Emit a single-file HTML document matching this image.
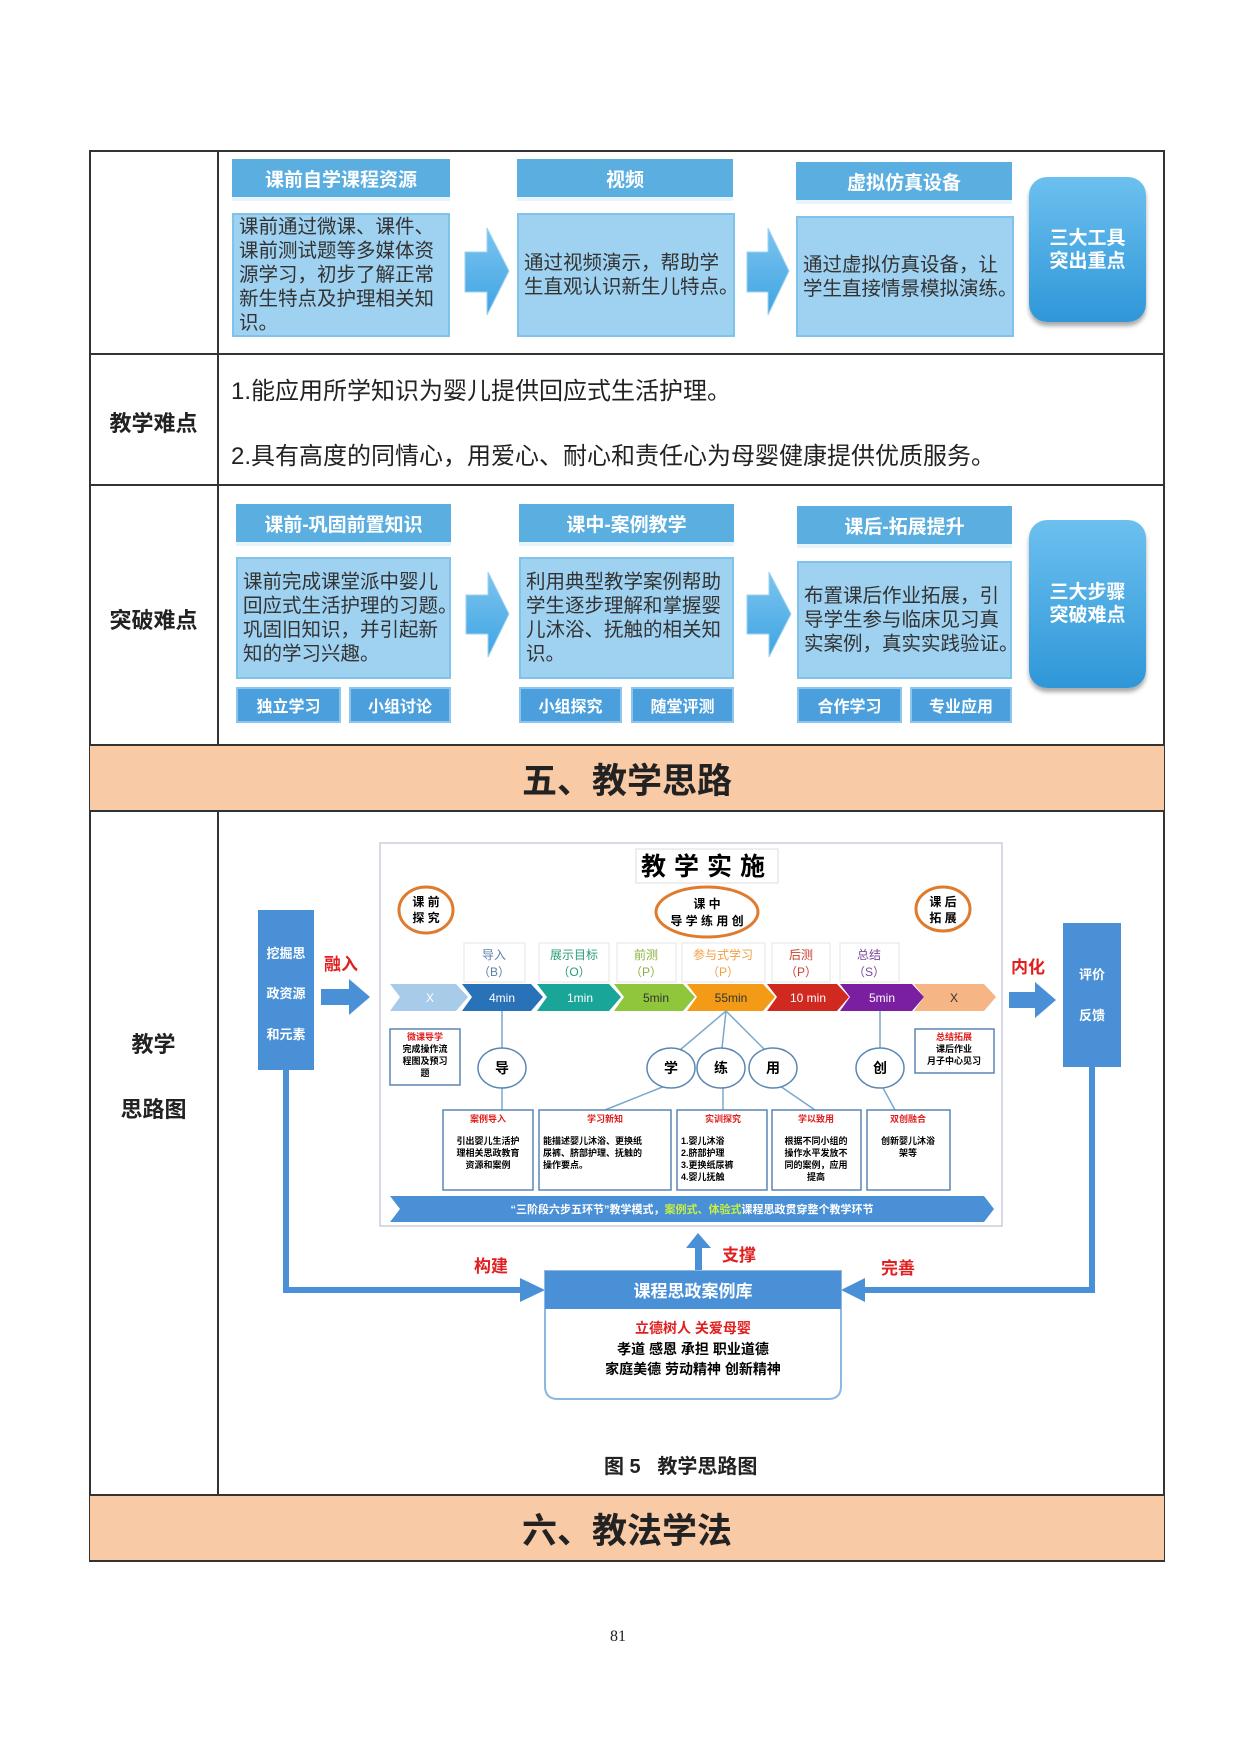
<!DOCTYPE html>
<html><head><meta charset="utf-8"><style>
*{margin:0;padding:0;box-sizing:border-box}
body{width:1240px;height:1753px;background:#fff;position:relative;font-family:"Liberation Sans","Noto Sans CJK SC",sans-serif;color:#222;overflow:hidden}
.a{position:absolute}
.l{position:absolute;background:#333}
.hd{position:absolute;background:#5aaee0;color:#fff;font-weight:bold;font-size:19px;display:flex;align-items:center;justify-content:center;border-bottom:4px solid #e8f4fb}
.bd{position:absolute;background:#9fd1f1;border:2px solid #7fc2ea;font-size:19.5px;line-height:24px;color:#333;padding:2px 2px 2px 5px;display:flex;align-items:center;white-space:nowrap}
.rb{position:absolute;border-radius:18px;background:linear-gradient(#6cc0ef,#2f97d8);color:#fff;font-weight:bold;font-size:19px;line-height:23px;display:flex;align-items:center;justify-content:center;text-align:center;box-shadow:0 4px 4px #aaa}
.bt{position:absolute;background:#4a9fdc;color:#fff;font-weight:bold;font-size:16px;display:flex;align-items:center;justify-content:center;border:2px solid #8cc6ec}
.lab{position:absolute;font-weight:bold;font-size:22px;text-align:center;width:129px;left:89px}
.sec{position:absolute;left:90px;width:1074px;background:#f8caa6;font-weight:bold;font-size:35px;display:flex;align-items:center;justify-content:center}
</style></head><body>
<div class="l" style="left:89px;top:150px;width:1076px;height:2px"></div>
<div class="l" style="left:89px;top:150px;width:2px;height:1412px"></div>
<div class="l" style="left:1163px;top:150px;width:2px;height:1412px"></div>
<div class="l" style="left:217px;top:150px;width:2px;height:595px"></div>
<div class="l" style="left:217px;top:811px;width:2px;height:684px"></div>
<div class="l" style="left:89px;top:353px;width:1076px;height:2px"></div>
<div class="l" style="left:89px;top:484px;width:1076px;height:2px"></div>
<div class="l" style="left:89px;top:744px;width:1076px;height:2px"></div>
<div class="l" style="left:89px;top:810px;width:1076px;height:2px"></div>
<div class="l" style="left:89px;top:1494px;width:1076px;height:2px"></div>
<div class="l" style="left:89px;top:1560px;width:1076px;height:2px"></div>
<div class="sec" style="top:746px;height:64px">五、教学思路</div>
<div class="sec" style="top:1496px;height:64px">六、教法学法</div>

<div class="hd" style="left:232px;top:159px;width:218px;height:42px">课前自学课程资源</div>
<div class="hd" style="left:517px;top:159px;width:216px;height:42px">视频</div>
<div class="hd" style="left:796px;top:162px;width:216px;height:42px">虚拟仿真设备</div>
<div class="bd" style="left:232px;top:213px;width:218px;height:124px"><div>课前通过微课、课件、<br>课前测试题等多媒体资<br>源学习，初步了解正常<br>新生特点及护理相关知<br>识。</div></div>
<div class="bd" style="left:517px;top:213px;width:218px;height:124px"><div>通过视频演示，帮助学<br>生直观认识新生儿特点。</div></div>
<div class="bd" style="left:796px;top:216px;width:218px;height:121px"><div>通过虚拟仿真设备，让<br>学生直接情景模拟演练。</div></div>
<div class="rb" style="left:1029px;top:177px;width:117px;height:145px">三大工具<br>突出重点</div>

<div class="lab" style="top:406px">教学难点</div>
<div class="a" style="left:231px;top:371px;font-size:24px">1.能应用所学知识为婴儿提供回应式生活护理。</div>
<div class="a" style="left:231px;top:436px;font-size:24px">2.具有高度的同情心，用爱心、耐心和责任心为母婴健康提供优质服务。</div>

<div class="lab" style="top:603px">突破难点</div>
<div class="hd" style="left:236px;top:504px;width:215px;height:42px">课前-巩固前置知识</div>
<div class="hd" style="left:519px;top:504px;width:215px;height:42px">课中-案例教学</div>
<div class="hd" style="left:797px;top:506px;width:215px;height:42px">课后-拓展提升</div>
<div class="bd" style="left:236px;top:557px;width:215px;height:122px"><div>课前完成课堂派中婴儿<br>回应式生活护理的习题。<br>巩固旧知识，并引起新<br>知的学习兴趣。</div></div>
<div class="bd" style="left:519px;top:557px;width:215px;height:122px"><div>利用典型教学案例帮助<br>学生逐步理解和掌握婴<br>儿沐浴、抚触的相关知<br>识。</div></div>
<div class="bd" style="left:797px;top:561px;width:215px;height:118px"><div>布置课后作业拓展，引<br>导学生参与临床见习真<br>实案例，真实实践验证。</div></div>
<div class="rb" style="left:1029px;top:520px;width:117px;height:168px">三大步骤<br>突破难点</div>
<div class="bt" style="left:236px;top:687px;width:105px;height:36px">独立学习</div>
<div class="bt" style="left:349px;top:687px;width:102px;height:36px">小组讨论</div>
<div class="bt" style="left:519px;top:687px;width:103px;height:36px">小组探究</div>
<div class="bt" style="left:631px;top:687px;width:103px;height:36px">随堂评测</div>
<div class="bt" style="left:797px;top:687px;width:105px;height:36px">合作学习</div>
<div class="bt" style="left:910px;top:687px;width:102px;height:36px">专业应用</div>

<div class="lab" style="top:1027px">教学</div>
<div class="lab" style="top:1092px">思路图</div>
<div class="a" style="left:604px;top:1450px;font-size:20px;font-weight:bold">图 5&nbsp;&nbsp;&nbsp;教学思路图</div>
<div class="a" style="left:610px;top:1628px;font-size:16px;font-family:'Liberation Serif',serif">81</div>

<svg class="a" style="left:0;top:0" width="1240" height="1753" font-family="Liberation Sans,Noto Sans CJK SC,sans-serif">
<defs><linearGradient id="g" x1="0" y1="0" x2="0" y2="1"><stop offset="0" stop-color="#7cc4ef"/><stop offset="1" stop-color="#3ea4e3"/></linearGradient></defs>
<g fill="url(#g)" stroke="#9fd1f1">
<polygon points="465,252 487,252 487,228 509,271 487,315 487,292 465,292"/>
<polygon points="747,252 768,252 768,228 789,271 768,315 768,292 747,292"/>
<polygon points="466,595 488,595 488,572 509,614 488,657 488,634 466,634"/>
<polygon points="747,595 769,595 769,572 791,614 769,657 769,634 747,634"/>
</g>
<rect x="380" y="843" width="622" height="383" fill="#fff" stroke="#ccd" stroke-width="1.5"/>
<rect x="636" y="849" width="142" height="34" fill="#fff" stroke="#ddd"/>
<text x="707" y="875" font-size="25" font-weight="bold" text-anchor="middle" letter-spacing="8">教学实施</text>
<g fill="none" stroke="#e07a2c" stroke-width="3">
<ellipse cx="426" cy="910" rx="27" ry="23"/><ellipse cx="707" cy="912" rx="51" ry="25"/><ellipse cx="943" cy="909" rx="27" ry="22"/></g>
<g font-size="12" font-weight="bold" text-anchor="middle">
<text x="426" y="906">课 前</text><text x="426" y="922">探 究</text>
<text x="707" y="908">课 中</text><text x="707" y="925">导 学 练 用 创</text>
<text x="943" y="906">课 后</text><text x="943" y="922">拓 展</text></g>
<g fill="#fff" stroke="#e4e4e4"><rect x="464" y="943" width="61" height="39"/><rect x="539" y="943" width="70" height="39"/><rect x="617" y="943" width="59" height="39"/><rect x="682" y="943" width="83" height="39"/><rect x="772" y="943" width="58" height="39"/><rect x="840" y="943" width="59" height="39"/></g>
<g font-size="12" text-anchor="middle">
<text x="494" y="959" fill="#5a7fa8">导入</text><text x="494" y="976" fill="#5a7fa8">（B）</text>
<text x="574" y="959" fill="#2a9a7a">展示目标</text><text x="574" y="976" fill="#2a9a7a">（O）</text>
<text x="646" y="959" fill="#8ab040">前测</text><text x="646" y="976" fill="#8ab040">（P）</text>
<text x="723" y="959" fill="#f0a040">参与式学习</text><text x="723" y="976" fill="#f0a040">（P）</text>
<text x="801" y="959" fill="#c84030">后测</text><text x="801" y="976" fill="#c84030">（P）</text>
<text x="869" y="959" fill="#7a4a9a">总结</text><text x="869" y="976" fill="#7a4a9a">（S）</text></g>
<g>
<polygon points="390,984 456,984 468,997 456,1011 390,1011 400,997" fill="#a9cbea"/>
<polygon points="462,984 531,984 543,997 531,1011 462,1011 472,997" fill="#2a72b8"/>
<polygon points="537,984 609,984 621,997 609,1011 537,1011 547,997" fill="#19a597"/>
<polygon points="614,984 683,984 695,997 683,1011 614,1011 624,997" fill="#8fc63c"/>
<polygon points="687,984 763,984 775,997 763,1011 687,1011 697,997" fill="#f39a16"/>
<polygon points="767,984 837,984 849,997 837,1011 767,1011 777,997" fill="#d02a20"/>
<polygon points="840,984 912,984 924,997 912,1011 840,1011 850,997" fill="#7a1fa0"/>
<polygon points="914,984 984,984 996,997 984,1011 914,1011 924,997" fill="#f5b585"/>
</g>
<g font-size="12" text-anchor="middle" fill="#fff">
<text x="430" y="1002">X</text><text x="502" y="1002">4min</text><text x="580" y="1002">1min</text><text x="656" y="1002" fill="#333">5min</text><text x="731" y="1002" fill="#333">55min</text><text x="808" y="1002">10 min</text><text x="882" y="1002">5min</text><text x="954" y="1002" fill="#333">X</text></g>
<g stroke="#7aa8cc" stroke-width="1.5" fill="none">
<line x1="502" y1="1011" x2="502" y2="1048"/><line x1="502" y1="1088" x2="502" y2="1110"/>
<line x1="726" y1="1011" x2="680" y2="1050"/><line x1="726" y1="1011" x2="722" y2="1048"/><line x1="726" y1="1011" x2="765" y2="1050"/>
<line x1="665" y1="1086" x2="605" y2="1110"/><line x1="723" y1="1088" x2="723" y2="1110"/><line x1="780" y1="1086" x2="815" y2="1110"/>
<line x1="880" y1="1011" x2="880" y2="1048"/><line x1="883" y1="1088" x2="895" y2="1110"/>
</g>
<g fill="#fff" stroke="#5a86b4" stroke-width="1.5">
<ellipse cx="502" cy="1068" rx="24" ry="20"/><ellipse cx="671" cy="1068" rx="24" ry="20"/><ellipse cx="721" cy="1068" rx="24" ry="20"/><ellipse cx="773" cy="1068" rx="24" ry="20"/><ellipse cx="880" cy="1068" rx="24" ry="20"/>
<rect x="390" y="1029" width="70" height="56"/><rect x="915" y="1029" width="79" height="44"/>
<rect x="443" y="1110" width="90" height="80"/><rect x="539" y="1110" width="132" height="80"/><rect x="677" y="1110" width="90" height="80"/><rect x="772" y="1110" width="89" height="80"/><rect x="867" y="1110" width="83" height="80"/>
</g>
<g font-size="14" font-weight="bold" text-anchor="middle"><text x="502" y="1073">导</text><text x="671" y="1073">学</text><text x="721" y="1073">练</text><text x="773" y="1073">用</text><text x="880" y="1073">创</text></g>
<g font-size="9" font-weight="bold" text-anchor="middle">
<text x="425" y="1040" fill="#e02020">微课导学</text><text x="425" y="1052">完成操作流</text><text x="425" y="1064">程图及预习</text><text x="425" y="1076">题</text>
<text x="954" y="1040" fill="#e02020">总结拓展</text><text x="954" y="1052">课后作业</text><text x="954" y="1064">月子中心见习</text>
<text x="488" y="1122" fill="#e02020">案例导入</text><text x="488" y="1144">引出婴儿生活护</text><text x="488" y="1156">理相关思政教育</text><text x="488" y="1168">资源和案例</text>
<text x="605" y="1122" fill="#e02020">学习新知</text>
<text x="723" y="1122" fill="#e02020">实训探究</text>
<text x="816" y="1122" fill="#e02020">学以致用</text><text x="816" y="1144">根据不同小组的</text><text x="816" y="1156">操作水平发放不</text><text x="816" y="1168">同的案例，应用</text><text x="816" y="1180">提高</text>
<text x="908" y="1122" fill="#e02020">双创融合</text><text x="908" y="1144">创新婴儿沐浴</text><text x="908" y="1156">架等</text>
</g>
<g font-size="9" font-weight="bold">
<text x="543" y="1144">能描述婴儿沐浴、更换纸</text><text x="543" y="1156">尿裤、脐部护理、抚触的</text><text x="543" y="1168">操作要点。</text>
<text x="681" y="1144">1.婴儿沐浴</text><text x="681" y="1156">2.脐部护理</text><text x="681" y="1168">3.更换纸尿裤</text><text x="681" y="1180">4.婴儿抚触</text>
</g>
<polygon points="390,1196 984,1196 994,1209 984,1222 390,1222 400,1209" fill="#4a90d6"/>
<text x="692" y="1213" font-size="11" font-weight="bold" fill="#fff" text-anchor="middle">“三阶段六步五环节”教学模式，<tspan fill="#c8f040">案例式、体验式</tspan>课程思政贯穿整个教学环节</text>
<rect x="258" y="910" width="56" height="160" fill="#4a90d6"/>
<rect x="1063" y="923" width="58" height="144" fill="#4a90d6"/>
<g font-size="13" font-weight="bold" fill="#fff" text-anchor="middle">
<text x="286" y="958">挖掘思</text><text x="286" y="998">政资源</text><text x="286" y="1039">和元素</text>
<text x="1092" y="979">评价</text><text x="1092" y="1020">反馈</text></g>
<g font-size="17" font-weight="bold" fill="#e02020"><text x="324" y="970">融入</text><text x="1011" y="973">内化</text><text x="474" y="1272">构建</text><text x="881" y="1274">完善</text><text x="722" y="1261">支撑</text></g>
<g fill="#4a90d6">
<polygon points="321,989 349,989 349,979 370,997 349,1015 349,1005 321,1005"/>
<polygon points="1009,992 1035,992 1035,982 1056,1000 1035,1018 1035,1008 1009,1008"/>
<rect x="283" y="1070" width="6" height="223"/><rect x="283" y="1287" width="240" height="6"/><polygon points="520,1278 545,1290 520,1302"/>
<rect x="1089" y="1067" width="6" height="226"/><rect x="862" y="1287" width="233" height="6"/><polygon points="865,1278 841,1290 865,1302"/>
<rect x="695" y="1246" width="7" height="26"/><polygon points="686,1248 698,1233 711,1248"/>
</g>
<path d="M545,1271 H841 V1386 Q841,1399 828,1399 H558 Q545,1399 545,1386 Z" fill="#fff" stroke="#8fb8e0" stroke-width="2"/>
<rect x="545" y="1271" width="296" height="38" fill="#4a90d6"/>
<text x="693" y="1297" font-size="17" font-weight="bold" fill="#fff" text-anchor="middle">课程思政案例库</text>
<g font-size="14" font-weight="bold" text-anchor="middle"><text x="693" y="1333" fill="#e02020">立德树人  关爱母婴</text><text x="693" y="1354">孝道  感恩  承担  职业道德</text><text x="693" y="1374">家庭美德  劳动精神  创新精神</text></g>
</svg>
</body></html>
